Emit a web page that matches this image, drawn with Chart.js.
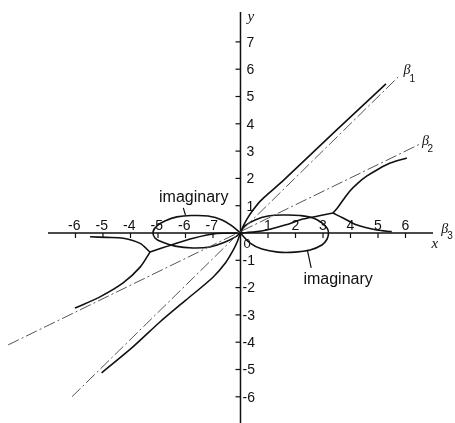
<!DOCTYPE html>
<html>
<head>
<meta charset="utf-8">
<script src="https://cdn.jsdelivr.net/npm/chart.js@4/dist/chart.umd.min.js"></script>
<style>
  html, body { margin: 0; padding: 0; background: #fff; }
  canvas { display: block; }
</style>
</head>
<body>
<canvas id="c" width="455" height="423"></canvas>
<script>
// Axis ticks and their printed labels
const xTicks = [-6, -5, -4, -3, -2, -1, 1, 2, 3, 4, 5, 6];
const xTickLabels = ['-6', '-5', '-4', '-5', '-6', '-7', '1', '2', '3', '4', '5', '6'];
const yTicks = [-6, -5, -4, -3, -2, -1, 1, 2, 3, 4, 5, 6, 7];
const yTickLabels = ['-6', '-5', '-4', '-3', '-2', '-1', '1', '2', '3', '4', '5', '6', '7'];

// Asymptotes (dash-dot)
const beta1Asymptote = [[-6.13, -6.0], [5.73, 5.71]];
const beta2Asymptote = [[-8.45, -4.10], [6.53, 3.26]];

// beta1 branches
const beta1Upper = [[0, 0], [0.10, 0.25], [0.24, 0.52], [0.47, 0.86], [0.71, 1.16], [1.0, 1.43], [1.56, 1.93], [3.44, 3.72], [5.29, 5.46]];
const beta1Lower = [[0, 0], [-0.11, -0.3], [-0.26, -0.62], [-0.55, -1.1], [-1.0, -1.62], [-2.0, -2.47], [-2.93, -3.26], [-3.9, -4.16], [-5.05, -5.12]];

// beta2 branches, right side: origin -> cusp, cusp -> upper, cusp -> tail
const beta2RightInner = [[0, 0], [0.53, 0.04], [0.96, 0.11], [1.62, 0.29], [2.27, 0.51], [2.82, 0.62], [3.36, 0.73]];
const beta2RightOuter = [[3.36, 0.73], [3.55, 0.95], [3.73, 1.21], [3.98, 1.54], [4.27, 1.83], [4.6, 2.09], [4.96, 2.31], [5.44, 2.56], [6.05, 2.75]];
const beta2RightTail = [[3.36, 0.73], [3.73, 0.55], [4.24, 0.29], [4.96, 0.11], [5.5, 0.05]];

// beta2 branches, left side
const beta2LeftInner = [[0, 0], [-0.4, -0.01], [-0.87, -0.02], [-1.72, -0.19], [-2.44, -0.41], [-3.29, -0.70]];
const beta2LeftOuter = [[-3.29, -0.70], [-3.65, -1.25], [-4.27, -1.83], [-5.11, -2.34], [-6.02, -2.75]];
const beta2LeftTail = [[-3.29, -0.70], [-3.65, -0.38], [-4.26, -0.19], [-4.87, -0.16], [-5.47, -0.14]];

// Imaginary loops
const loopRight = [[0, 0], [0.16, 0.26], [0.53, 0.48], [1.0, 0.62], [1.62, 0.66], [2.16, 0.64], [2.64, 0.55], [2.96, 0.37], [3.15, 0.18], [3.2, 0],
  [3.15, -0.22], [2.96, -0.44], [2.53, -0.62], [1.98, -0.70], [1.36, -0.70], [0.78, -0.59], [0.35, -0.37], [0, 0]];
const loopLeft = [[0, 0], [-0.31, 0.26], [-0.67, 0.48], [-1.18, 0.62], [-1.73, 0.64], [-2.31, 0.59], [-2.75, 0.44], [-3.04, 0.26], [-3.18, 0.04],
  [-3.11, -0.18], [-2.85, -0.33], [-2.38, -0.48], [-1.73, -0.55], [-1.11, -0.51], [-0.56, -0.33], [-0.2, -0.15], [0, 0]];

const toPts = arr => arr.map(([x, y]) => ({ x, y }));

const solid = (data, tension) => ({
  data: toPts(data), showLine: true, pointRadius: 0, borderColor: '#111', borderWidth: 1.6,
  tension: tension, fill: false
});
const dashDot = data => ({
  data: toPts(data), showLine: true, pointRadius: 0, borderColor: '#555', borderWidth: 1,
  borderDash: [12, 3, 2, 3], tension: 0, fill: false
});

// Hand-drawn style cross axes through the origin, with tick marks and labels
const crossAxes = {
  id: 'crossAxes',
  beforeDatasetsDraw(chart) {
    const { ctx, scales: { x, y } } = chart;
    const x0 = x.getPixelForValue(0), y0 = y.getPixelForValue(0);
    ctx.save();
    ctx.strokeStyle = '#111';
    ctx.fillStyle = '#111';
    ctx.lineWidth = 1.5;
    ctx.beginPath();
    ctx.moveTo(x.getPixelForValue(-7.0), y0);
    ctx.lineTo(x.getPixelForValue(7.0), y0);
    ctx.moveTo(x0, y.getPixelForValue(8.1));
    ctx.lineTo(x0, y.getPixelForValue(-6.96));
    ctx.stroke();

    ctx.lineWidth = 1.2;
    ctx.font = '14px "Liberation Sans", Arial, sans-serif';
    xTicks.forEach((v, i) => {
      const px = x.getPixelForValue(v);
      ctx.beginPath();
      ctx.moveTo(px, y0);
      ctx.lineTo(px, y0 + 5);
      ctx.stroke();
      ctx.textBaseline = 'alphabetic';
      if (v < 0) { ctx.textAlign = 'right'; ctx.fillText(xTickLabels[i], px + 5, y0 - 3); }
      else { ctx.textAlign = 'center'; ctx.fillText(xTickLabels[i], px, y0 - 3); }
    });
    yTicks.forEach((v, i) => {
      const py = y.getPixelForValue(v);
      ctx.beginPath();
      ctx.moveTo(x0 - 5, py);
      ctx.lineTo(x0, py);
      ctx.stroke();
      ctx.textBaseline = 'middle';
      ctx.textAlign = 'left';
      ctx.fillText(yTickLabels[i], v < 0 ? x0 + 2 : x0 + 6, py + 1);
    });

    // origin label
    ctx.font = '13px "Liberation Sans", Arial, sans-serif';
    ctx.textAlign = 'left';
    ctx.textBaseline = 'middle';
    ctx.fillText('0', x0 + 3, y0 + 11);

    // axis names
    ctx.font = 'italic 15px "Liberation Serif", serif';
    ctx.fillText('y', x0 + 7, y.getPixelForValue(7.9));
    ctx.fillText('x', x.getPixelForValue(6.95), y0 + 11);
    ctx.font = 'italic 14px "Liberation Serif", serif';
    ctx.fillText('\u03B2', x.getPixelForValue(7.3), y0 - 4);
    ctx.font = '10px "Liberation Sans", sans-serif';
    ctx.fillText('3', x.getPixelForValue(7.52), y0 + 3);

    // asymptote names
    ctx.font = 'italic 14px "Liberation Serif", serif';
    ctx.fillText('\u03B2', x.getPixelForValue(5.93), y.getPixelForValue(5.95));
    ctx.fillText('\u03B2', x.getPixelForValue(6.6), y.getPixelForValue(3.35));
    ctx.font = '10px "Liberation Sans", sans-serif';
    ctx.fillText('1', x.getPixelForValue(6.15), y.getPixelForValue(5.65));
    ctx.fillText('2', x.getPixelForValue(6.8), y.getPixelForValue(3.05));

    // imaginary labels with pointers
    ctx.font = '16px "Liberation Sans", Arial, sans-serif';
    ctx.textAlign = 'center';
    ctx.fillText('imaginary', x.getPixelForValue(-1.7), y.getPixelForValue(1.3));
    ctx.fillText('imaginary', x.getPixelForValue(3.55), y.getPixelForValue(-1.7));
    ctx.lineWidth = 1.2;
    ctx.beginPath();
    ctx.moveTo(x.getPixelForValue(-2.08), y.getPixelForValue(0.92));
    ctx.lineTo(x.getPixelForValue(-2.0), y.getPixelForValue(0.66));
    ctx.moveTo(x.getPixelForValue(2.43), y.getPixelForValue(-0.62));
    ctx.lineTo(x.getPixelForValue(2.57), y.getPixelForValue(-1.28));
    ctx.stroke();
    ctx.restore();
  }
};

new Chart(document.getElementById('c'), {
  type: 'scatter',
  data: {
    datasets: [
      dashDot(beta1Asymptote),
      dashDot(beta2Asymptote),
      solid(beta1Upper, 0.3),
      solid(beta1Lower, 0.3),
      solid(beta2RightInner, 0.3),
      solid(beta2RightOuter, 0.3),
      solid(beta2RightTail, 0.3),
      solid(beta2LeftInner, 0.3),
      solid(beta2LeftOuter, 0.3),
      solid(beta2LeftTail, 0.3),
      solid(loopRight, 0.4),
      solid(loopLeft, 0.4)
    ]
  },
  options: {
    responsive: false,
    devicePixelRatio: 1,
    animation: false,
    layout: { padding: 0 },
    plugins: { legend: { display: false }, tooltip: { enabled: false } },
    scales: {
      x: { type: 'linear', display: false, min: -8.745, max: 7.8 },
      y: { type: 'linear', display: false, min: -6.96, max: 8.535 }
    }
  },
  plugins: [crossAxes]
});
</script>
</body>
</html>
